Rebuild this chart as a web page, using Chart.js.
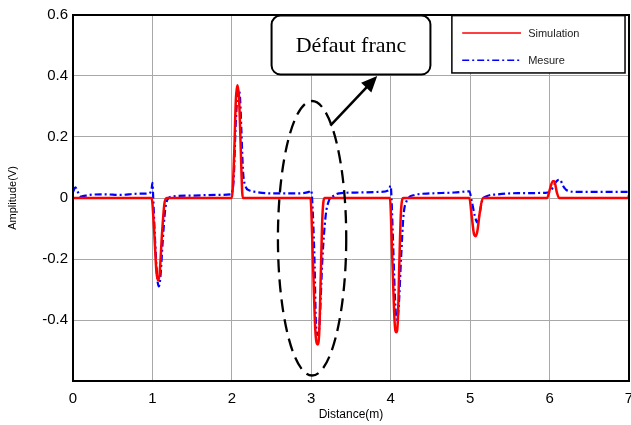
<!DOCTYPE html>
<html>
<head>
<meta charset="utf-8">
<script src="https://cdn.jsdelivr.net/npm/chart.js@4.4.1/dist/chart.umd.min.js"></script>
<style>
  html, body { margin: 0; padding: 0; background: #fff; }
  #wrap { width: 631px; height: 425px; position: relative; }
</style>
</head>
<body>
<div id="wrap"><canvas id="chart"></canvas></div>
<script>
// values
const simX = [0, 0.99, 1.02, 1.05, 1.07, 1.09, 1.12, 1.15, 1.18,
  2.0, 2.03, 2.05, 2.07, 2.09, 2.11, 2.13, 2.14,
  2.99, 3.02, 3.05, 3.08, 3.10, 3.12, 3.14, 3.17,
  3.99, 4.02, 4.05, 4.07, 4.09, 4.11, 4.13, 4.16,
  4.99, 5.02, 5.05, 5.07, 5.09, 5.12, 5.16,
  5.97, 6.0, 6.04, 6.06, 6.09, 6.12, 6.99, 7.0];
const simY = [0, 0, -0.1, -0.24, -0.27, -0.25, -0.12, -0.02, 0,
  0, 0.15, 0.32, 0.37, 0.33, 0.18, 0.02, 0,
  0, -0.2, -0.43, -0.48, -0.44, -0.25, -0.06, 0,
  0, -0.2, -0.41, -0.44, -0.40, -0.2, -0.04, 0,
  0, -0.06, -0.12, -0.125, -0.11, -0.05, 0,
  0, 0.025, 0.055, 0.055, 0.02, 0, 0, 0.01];

const mesX = [0, 0.03, 0.06, 0.1, 0.2, 0.4, 0.6, 0.8, 0.95, 0.99, 1.0, 1.01, 1.03, 1.06, 1.08, 1.10, 1.13, 1.16, 1.19, 1.25, 1.5, 1.8,
  1.98, 2.02, 2.05, 2.08, 2.10, 2.12, 2.14, 2.17, 2.22, 2.3, 2.5, 2.8,
  2.97, 3.0, 3.01, 3.04, 3.06, 3.09, 3.11, 3.14, 3.18, 3.22, 3.27, 3.35, 3.6, 3.85,
  3.97, 4.0, 4.01, 4.03, 4.06, 4.08, 4.10, 4.13, 4.16, 4.20, 4.3, 4.5, 4.8,
  4.99, 5.02, 5.06, 5.09, 5.12, 5.15, 5.2, 5.35, 5.6, 5.95,
  6.02, 6.06, 6.10, 6.13, 6.17, 6.22, 6.35, 6.6, 6.9, 7.0];
const mesY = [0.02, 0.035, 0.02, 0.005, 0.01, 0.012, 0.01, 0.014, 0.015, 0.03, 0.05, 0.0, -0.12, -0.26, -0.29, -0.26, -0.14, -0.04, -0.005, 0.005, 0.008, 0.01,
  0.012, 0.05, 0.25, 0.355, 0.34, 0.22, 0.09, 0.04, 0.025, 0.02, 0.015, 0.015,
  0.02, 0.025, 0.0, -0.2, -0.42, -0.45, -0.38, -0.2, -0.06, -0.01, 0.005, 0.015, 0.018, 0.02,
  0.025, 0.04, 0.0, -0.15, -0.36, -0.40, -0.36, -0.2, -0.06, -0.01, 0.01, 0.015, 0.018,
  0.022, -0.01, -0.06, -0.08, -0.05, -0.01, 0.005, 0.012, 0.016, 0.017,
  0.025, 0.045, 0.058, 0.06, 0.04, 0.025, 0.02, 0.02, 0.02, 0.02];

const seriesNames = ["Simulation", "Mesure"];
const xTicks = [0, 1, 2, 3, 4, 5, 6, 7];
const yTicks = [-0.6, -0.4, -0.2, 0, 0.2, 0.4, 0.6];

const noteText = "Défaut franc";

const toPts = (xs, ys) => xs.map((x, i) => ({ x: x, y: ys[i] }));

// annotation layout (data coordinates)
const ANN = {
  ellipse: { cx: 3.01, cy: -0.132, rx: 0.43, ry: 0.45 },
  arrow: { x0: 3.24, y0: 0.237, x1: 3.83, y1: 0.40 },
  box: { x0: 2.50, x1: 4.50, y0: 0.598, y1: 0.405 },
  legend: { x0: 4.77, x1: 6.95, y0: 0.598, y1: 0.41, lx0: 4.90, lx1: 5.64, tx: 5.73, rows: [0.541, 0.452] }
};

const annotations = {
  id: "annotations",
  afterDraw(chart) {
    const { ctx, chartArea: a } = chart;
    const X = v => chart.scales.x.getPixelForValue(v);
    const Y = v => chart.scales.y.getPixelForValue(v);

    ctx.save();

    // frame
    ctx.strokeStyle = "#000";
    ctx.lineWidth = 2;
    ctx.strokeRect(a.left, a.top, a.right - a.left, a.bottom - a.top);

    // dashed ellipse
    const e = ANN.ellipse;
    ctx.beginPath();
    ctx.setLineDash([13, 7]);
    ctx.lineWidth = 2.3;
    ctx.ellipse(X(e.cx), Y(e.cy), X(e.cx + e.rx) - X(e.cx), Y(e.cy) - Y(e.cy + e.ry), 0, 0, Math.PI * 2);
    ctx.stroke();
    ctx.setLineDash([]);

    // arrow
    const r = ANN.arrow;
    const ax0 = X(r.x0), ay0 = Y(r.y0), ax1 = X(r.x1), ay1 = Y(r.y1);
    const ang = Math.atan2(ay1 - ay0, ax1 - ax0);
    const hl = 16, hw = 7;
    ctx.beginPath();
    ctx.moveTo(ax0, ay0);
    ctx.lineTo(ax1 - Math.cos(ang) * hl * 0.8, ay1 - Math.sin(ang) * hl * 0.8);
    ctx.lineWidth = 2.5;
    ctx.stroke();
    ctx.beginPath();
    ctx.moveTo(ax1, ay1);
    ctx.lineTo(ax1 - Math.cos(ang) * hl - Math.sin(ang) * hw, ay1 - Math.sin(ang) * hl + Math.cos(ang) * hw);
    ctx.lineTo(ax1 - Math.cos(ang) * hl + Math.sin(ang) * hw, ay1 - Math.sin(ang) * hl - Math.cos(ang) * hw);
    ctx.closePath();
    ctx.fillStyle = "#000";
    ctx.fill();

    // text box
    const b = ANN.box;
    const bx = X(b.x0), by = Y(b.y0), bw = X(b.x1) - bx, bh = Y(b.y1) - by;
    ctx.beginPath();
    ctx.roundRect(bx, by, bw, bh, 9);
    ctx.fillStyle = "#fff";
    ctx.fill();
    ctx.lineWidth = 2;
    ctx.stroke();
    ctx.fillStyle = "#000";
    ctx.font = "22px 'Liberation Serif', 'Times New Roman', serif";
    ctx.textAlign = "center";
    ctx.textBaseline = "middle";
    ctx.fillText(noteText, bx + bw / 2, by + bh / 2 + 1);

    // legend
    const g = ANN.legend;
    const gx = X(g.x0), gy = Y(g.y0), gw = X(g.x1) - gx, gh = Y(g.y1) - gy;
    ctx.fillStyle = "#fff";
    ctx.fillRect(gx, gy, gw, gh);
    ctx.lineWidth = 1.5;
    ctx.strokeStyle = "#000";
    ctx.strokeRect(gx, gy, gw, gh);
    ctx.font = "11px 'Liberation Sans', Arial, sans-serif";
    ctx.textAlign = "left";
    chart.data.datasets.forEach((ds, i) => {
      const ly = Y(g.rows[i]);
      ctx.beginPath();
      ctx.strokeStyle = ds.borderColor;
      ctx.lineWidth = 1.5;
      ctx.setLineDash(ds.borderDash || []);
      ctx.moveTo(X(g.lx0), ly);
      ctx.lineTo(X(g.lx1), ly);
      ctx.stroke();
      ctx.setLineDash([]);
      ctx.fillStyle = "#222";
      ctx.fillText(ds.label, X(g.tx), ly + 1);
    });

    ctx.restore();
  }
};

new Chart(document.getElementById("chart"), {
  type: "line",
  data: {
    datasets: [
      {
        label: seriesNames[0],
        data: toPts(simX, simY),
        borderColor: "#ff0000",
        borderWidth: 2.5,
        pointRadius: 0,
        cubicInterpolationMode: "monotone",
        fill: false
      },
      {
        label: seriesNames[1],
        data: toPts(mesX, mesY),
        borderColor: "#0000ff",
        borderWidth: 2.2,
        borderDash: [7, 3, 2, 3],
        pointRadius: 0,
        cubicInterpolationMode: "monotone",
        fill: false
      }
    ]
  },
  options: {
    responsive: true,
    maintainAspectRatio: false,
    animation: false,
    layout: { padding: { top: 15, right: 2, left: 0, bottom: 0 } },
    plugins: {
      legend: { display: false },
      tooltip: { enabled: false }
    },
    scales: {
      x: {
        type: "linear",
        min: 0,
        max: 7,
        afterBuildTicks: s => { s.ticks = xTicks.map(v => ({ value: v })); },
        afterFit: s => { s.height = 44; s.paddingLeft = 0; s.paddingRight = 0; },
        grid: { color: "#a8a8a8", lineWidth: 1, drawTicks: false },
        border: { color: "#000", width: 2 },
        ticks: {
          padding: 9,
          color: "#000",
          font: { family: "'Liberation Sans', Arial, sans-serif", size: 15 }
        },
        title: {
          display: true,
          text: "Distance(m)",
          color: "#000",
          padding: { top: 0, bottom: 3 },
          font: { family: "'Liberation Sans', Arial, sans-serif", size: 12 }
        }
      },
      y: {
        type: "linear",
        min: -0.6,
        max: 0.6,
        afterBuildTicks: s => { s.ticks = yTicks.map(v => ({ value: v })); },
        afterFit: s => { s.width = 73; },
        grid: { color: "#a8a8a8", lineWidth: 1, drawTicks: false },
        border: { color: "#000", width: 2 },
        ticks: {
          padding: 5,
          color: "#000",
          font: { family: "'Liberation Sans', Arial, sans-serif", size: 15 },
          callback: v => (Math.abs(v + 0.6) < 1e-9 ? "" : (Math.abs(v) < 1e-9 ? "0" : v.toFixed(1)))
        },
        title: {
          display: true,
          text: "Amplitude(V)",
          color: "#000",
          padding: { top: 6, bottom: 0 },
          font: { family: "'Liberation Sans', Arial, sans-serif", size: 11 }
        }
      }
    }
  },
  plugins: [annotations]
});
</script>
</body>
</html>
